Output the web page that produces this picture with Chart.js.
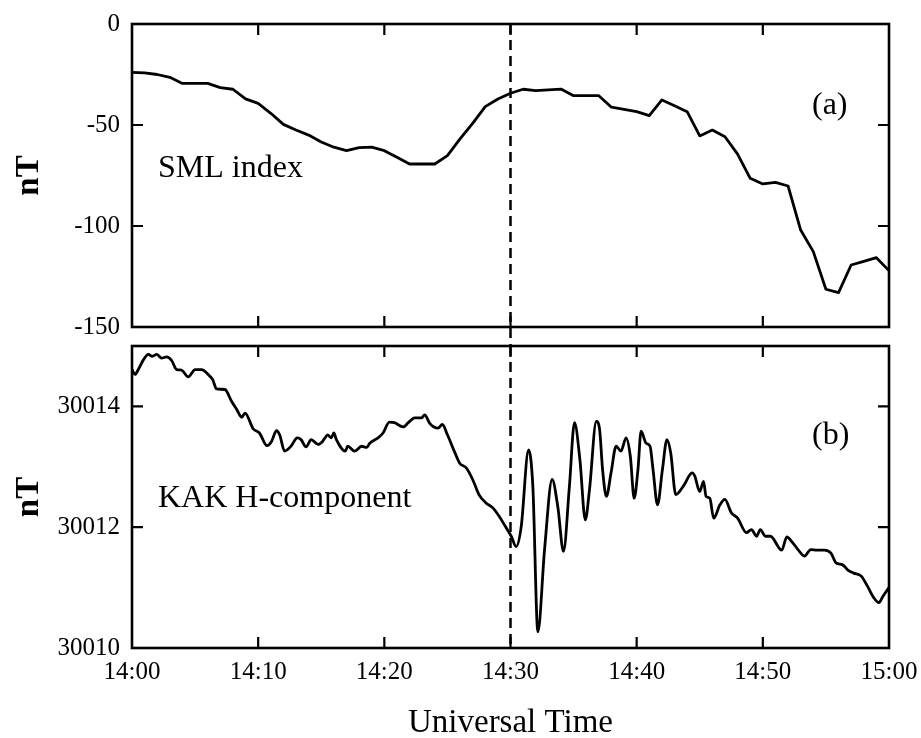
<!DOCTYPE html>
<html>
<head>
<meta charset="utf-8">
<script src="https://cdn.jsdelivr.net/npm/chart.js@4.4.1/dist/chart.umd.min.js"></script>
<style>
html, body { margin: 0; padding: 0; background: #fff; }
#wrap { position: relative; width: 921px; height: 738px; overflow: hidden; background: #fff; }
canvas { position: absolute; left: 0; }
#c1 { top: 0; }
#c2 { top: 336px; }
</style>
</head>
<body>
<div id="wrap">
  <canvas id="c1" width="921" height="346"></canvas>
  <canvas id="c2" width="921" height="402"></canvas>
</div>
<script>
// ---------- data (minutes after 14:00 UT) ----------
const timeTickValues = [0, 10, 20, 30, 40, 50, 60];
const timeTickLabels = ["14:00", "14:10", "14:20", "14:30", "14:40", "14:50", "15:00"];
const onsetMinute = 30;

// (a) SML index, 1-min values
const smlTime = [0,1,2,3,4,5,6,7,8,9,10,11,12,13,14,15,16,17,18,19,20,21,22,23,24,25,26,27,28,29,30,
                 31,32,33,34,35,36,37,38,39,40,41,42,43,44,45,46,47,48,49,50,51,52,53,54,55,56,57,58,59,60];
const smlValues = [-23.9,-24.2,-25.0,-26.4,-29.4,-29.4,-29.4,-31.5,-32.3,-37.1,-39.3,-44.2,-49.7,-52.5,-55.0,-58.4,
                   -61.0,-62.7,-61.2,-61.0,-62.7,-66.0,-69.3,-69.3,-69.3,-65.2,-56.9,-49.2,-40.9,-37.1,-34.3,
                   -32.3,-33.0,-32.6,-32.2,-35.5,-35.5,-35.5,-41.2,-42.3,-43.4,-45.4,-37.6,-40.5,-43.4,-55.4,
                   -52.5,-55.8,-64.4,-76.4,-79.2,-78.4,-80.2,-102.0,-112.7,-131.3,-133.0,-119.3,-117.5,-115.7,-122.1];
const smlTickValues = [0, -50, -100, -150];

// (b) KAK H-component
const kakTime = [0,0.24,0.5,0.9,1.3,1.6,1.95,2.35,2.75,3.14,3.54,3.93,4.46,5.0,5.5,6.17,6.4,6.7,7.36,7.9,8.3,8.7,8.96,
  9.6,10.1,10.7,11.06,11.45,11.7,12.1,12.6,13.1,13.4,13.8,14.2,14.75,15.1,15.3,15.5,15.8,16.0,16.2,16.9,17.1,17.65,
  18.2,18.6,18.85,19.5,19.9,20.4,20.8,21.5,21.9,22.4,22.95,23.2,23.6,24.25,24.6,25.0,25.6,25.97,26.5,27.0,27.5,28.06,
  28.6,29.1,29.6,30.06,30.45,30.85,31.43,31.77,32.17,32.7,33.3,33.75,34.2,34.67,35.07,35.5,35.93,36.26,36.8,37.05,
  37.3,37.6,37.97,38.37,38.76,39.16,39.5,39.8,40.1,40.35,40.75,41.06,41.3,41.65,42.04,42.4,42.7,43.1,43.7,44.4,44.6,
  45.0,45.3,45.5,45.8,46.1,46.6,46.99,47.5,48.0,48.7,49.1,49.5,49.8,50.2,50.6,51.5,51.9,52.3,52.9,53.3,53.8,54.3,
  54.9,55.4,55.8,56.3,56.8,57.2,57.8,58.3,58.8,59.2,59.5,59.9,60.0];
const kakH = [30014.61,30014.53,30014.61,30014.77,30014.86,30014.83,30014.86,30014.80,30014.82,30014.76,30014.61,
  30014.60,30014.49,30014.61,30014.61,30014.50,30014.44,30014.29,30014.28,30014.08,30013.95,30013.82,30013.89,
  30013.63,30013.56,30013.35,30013.42,30013.60,30013.53,30013.26,30013.34,30013.48,30013.45,30013.33,30013.45,
  30013.37,30013.42,30013.48,30013.53,30013.48,30013.56,30013.45,30013.26,30013.34,30013.26,30013.34,30013.32,
  30013.39,30013.48,30013.56,30013.74,30013.73,30013.66,30013.73,30013.81,30013.81,30013.86,30013.72,30013.64,
  30013.70,30013.53,30013.23,30013.06,30012.98,30012.79,30012.54,30012.40,30012.32,30012.18,30012.01,30011.85,
  30011.68,30012.01,30013.28,30012.68,30010.27,30011.63,30012.79,30012.34,30011.60,30012.68,30013.73,30013.12,
  30012.12,30012.62,30013.75,30013.64,30012.95,30012.51,30012.90,30013.34,30013.26,30013.48,30013.17,30012.48,
  30012.95,30013.59,30013.39,30013.34,30012.95,30012.37,30012.95,30013.45,30013.23,30012.54,30012.68,30012.90,
  30012.85,30012.59,30012.76,30012.51,30012.48,30012.15,30012.37,30012.46,30012.24,30012.15,30011.91,30011.96,
  30011.85,30011.96,30011.85,30011.85,30011.62,30011.84,30011.76,30011.60,30011.52,30011.63,30011.62,30011.62,
  30011.57,30011.41,30011.38,30011.28,30011.24,30011.19,30011.02,30010.83,30010.75,30010.85,30010.97,30011.00];
const kakTickValues = [30010, 30012, 30014];

const panelNames = ["SML index", "KAK H-component"];
const panelTags = ["(a)", "(b)"];
const xTitle = "Universal Time";
const yTitle = "nT";

// ---------- rendering ----------
const FONT = '"Liberation Serif", "Times New Roman", serif';
Chart.defaults.font.family = FONT;
Chart.defaults.color = '#000';

const panelPlugin = {
  id: 'panel',
  beforeDatasetsDraw(chart, args, o) {
    const { ctx, chartArea: a, scales: { x } } = chart;
    const px = x.getPixelForValue(onsetMinute);
    ctx.save();
    ctx.strokeStyle = '#000';
    ctx.lineWidth = 2.5;
    ctx.setLineDash([10, 6]);
    ctx.beginPath();
    ctx.moveTo(px, a.top);
    ctx.lineTo(px, o.dashToCanvas ? chart.height : a.bottom);
    ctx.stroke();
    ctx.restore();
  },
  afterDatasetsDraw(chart, args, o) {
    const { ctx, chartArea: a, scales: { x, y } } = chart;
    ctx.save();
    ctx.strokeStyle = '#000';
    ctx.lineWidth = 2.6;
    ctx.strokeRect(a.left, a.top, a.right - a.left, a.bottom - a.top);
    ctx.lineWidth = 2.2;
    ctx.beginPath();
    x.ticks.forEach(t => {
      if (t.value <= x.min || t.value >= x.max) return;
      const p = x.getPixelForValue(t.value);
      ctx.moveTo(p, a.top); ctx.lineTo(p, a.top + 11);
      ctx.moveTo(p, a.bottom); ctx.lineTo(p, a.bottom - 11);
    });
    y.ticks.forEach(t => {
      if (t.value <= y.min || t.value >= y.max) return;
      const p = y.getPixelForValue(t.value);
      ctx.moveTo(a.left, p); ctx.lineTo(a.left + 11, p);
      ctx.moveTo(a.right, p); ctx.lineTo(a.right - 11, p);
    });
    ctx.stroke();
    ctx.fillStyle = '#000';
    ctx.font = '32px ' + FONT;
    ctx.textAlign = 'left';
    ctx.textBaseline = 'alphabetic';
    ctx.fillText(o.name, a.left + 26, a.top + o.nameDy);
    ctx.fillText(o.tag, a.right - 77, a.top + o.tagDy);
    ctx.restore();
  }
};

function xScale(showLabels, h) {
  return {
    type: 'linear', min: 0, max: 60,
    afterBuildTicks: s => { s.ticks = timeTickValues.map(v => ({ value: v })); },
    afterFit: s => { s.height = h; s.paddingLeft = 0; s.paddingRight = 0; },
    grid: { display: false, drawTicks: false },
    border: { display: false },
    ticks: {
      display: showLabels, padding: 9, color: '#000', autoSkip: false, maxRotation: 0,
      font: { family: FONT, size: 25 },
      callback: v => { const i = timeTickValues.indexOf(v); return i >= 0 ? timeTickLabels[i] : ''; }
    },
    title: {
      display: showLabels, text: xTitle, color: '#000',
      font: { family: FONT, size: 33, lineHeight: 0.9 }, padding: { top: 0, bottom: 0 }
    }
  };
}

function yScale(min, max, tickVals) {
  return {
    type: 'linear', min: min, max: max,
    afterBuildTicks: s => { s.ticks = tickVals.map(v => ({ value: v })); },
    afterFit: s => { s.width = 132; s.paddingTop = 0; s.paddingBottom = 0; },
    grid: { display: false, drawTicks: false },
    border: { display: false },
    ticks: {
      padding: 12, color: '#000', autoSkip: false,
      font: { family: FONT, size: 25 },
      callback: v => String(v)
    },
    title: {
      display: true, text: yTitle, color: '#000',
      font: { family: FONT, size: 33, weight: 'bold', lineHeight: 1 },
      padding: { top: 13, bottom: 0 }
    }
  };
}

function lineDataset(xs, ys, smooth) {
  const ds = {
    data: xs.map((t, i) => ({ x: t, y: ys[i] })),
    borderColor: '#000', borderWidth: 2.8, pointRadius: 0, tension: 0,
    borderJoinStyle: 'round', borderCapStyle: 'round', fill: false
  };
  if (smooth) ds.cubicInterpolationMode = 'monotone';
  return ds;
}

new Chart(document.getElementById('c1'), {
  type: 'line',
  data: { datasets: [lineDataset(smlTime, smlValues, false)] },
  options: {
    responsive: false, animation: false, devicePixelRatio: 1,
    layout: { padding: { top: 24, right: 32, bottom: 0, left: 0 } },
    plugins: {
      legend: { display: false }, tooltip: { enabled: false },
      panel: { name: panelNames[0], tag: panelTags[0], nameDy: 153, tagDy: 90, dashToCanvas: true }
    },
    scales: { x: xScale(false, 19), y: yScale(-150, 0, smlTickValues) }
  },
  plugins: [panelPlugin]
});

new Chart(document.getElementById('c2'), {
  type: 'line',
  data: { datasets: [lineDataset(kakTime, kakH, true)] },
  options: {
    responsive: false, animation: false, devicePixelRatio: 1,
    layout: { padding: { top: 10, right: 32, bottom: 0, left: 0 } },
    plugins: {
      legend: { display: false }, tooltip: { enabled: false },
      panel: { name: panelNames[1], tag: panelTags[1], nameDy: 161, tagDy: 98, dashToCanvas: false }
    },
    scales: { x: xScale(true, 90), y: yScale(30010, 30015, kakTickValues) }
  },
  plugins: [panelPlugin]
});
</script>
</body>
</html>
